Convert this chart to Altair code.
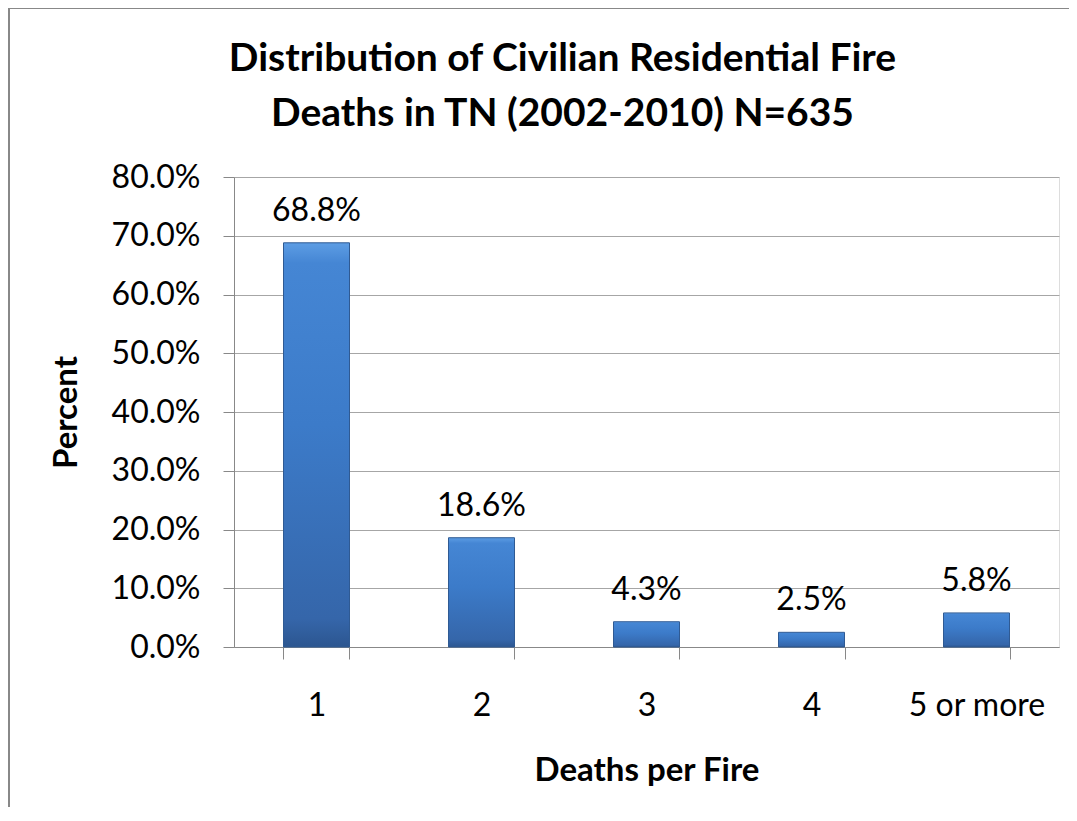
import altair as alt
import pandas as pd

categories = ["1", "2", "3", "4", "5 or more"]
percents = [0.688, 0.186, 0.043, 0.025, 0.058]
labels = ["68.8%", "18.6%", "4.3%", "2.5%", "5.8%"]
y_ticks = [0.0, 0.1, 0.2, 0.3, 0.4, 0.5, 0.6, 0.7, 0.8]

df = pd.DataFrame({"cat": categories, "pct": percents, "label": labels})

FONT = "Lato"
W, H = 825, 470
PAD = {"left": 226, "top": 169, "right": 10, "bottom": 160}

xenc = alt.X(
    "cat:N",
    sort=categories,
    scale=alt.Scale(paddingInner=0.6, paddingOuter=0.3),
    axis=alt.Axis(
        title="Deaths per Fire",
        labelAngle=0,
        tickBand="extent",
        tickSize=12,
        tickColor="#888888",
        domainColor="#888888",
        labelFont=FONT,
        labelFontSize=32,
        labelColor="#000000",
        labelPadding=31,
        titleFont=FONT,
        titleFontSize=33,
        titleFontWeight="bold",
        titleColor="#000000",
        titlePadding=33,
        grid=False,
    ),
)
yenc = alt.Y(
    "pct:Q",
    scale=alt.Scale(domain=[0, 0.8], nice=False),
    axis=alt.Axis(
        title="Percent",
        values=y_ticks,
        format=".1%",
        tickSize=11,
        tickColor="#888888",
        domainColor="#888888",
        gridColor="#a6a6a6",
        labelFont=FONT,
        labelFontSize=32,
        labelColor="#000000",
        labelPadding=23,
        titleFont=FONT,
        titleFontSize=33,
        titleFontWeight="bold",
        titleColor="#000000",
        titlePadding=28,
    ),
)

grad = alt.LinearGradient(
    gradient="linear",
    stops=[
        alt.GradientStop(color="#5d9de4", offset=0),
        alt.GradientStop(color="#4586d4", offset=0.05),
        alt.GradientStop(color="#3c7bc9", offset=0.45),
        alt.GradientStop(color="#3566aa", offset=0.93),
        alt.GradientStop(color="#2c5690", offset=1),
    ],
    x1=0, x2=0, y1=0, y2=1,
)

bars = alt.Chart(df).mark_bar(color=grad, stroke="#2f5a93", strokeWidth=1).encode(
    x=xenc, y=yenc
)

text = alt.Chart(df).mark_text(
    baseline="alphabetic", dy=-22, font=FONT, fontSize=32, color="#000000"
).encode(x=alt.X("cat:N", sort=categories), y="pct:Q", text="label:N")

frame_left = alt.Chart(df).mark_rule(color="#888888", strokeWidth=2).encode(
    x=alt.value(-225), y=alt.value(-169), y2=alt.value(H + PAD["bottom"])
)
frame_top = alt.Chart(df).mark_rule(color="#888888", strokeWidth=2).encode(
    x=alt.value(-226), x2=alt.value(W + PAD["right"]), y=alt.value(-169)
)

chart = (
    alt.layer(bars, text, frame_left, frame_top)
    .properties(
        width=W,
        height=H,
        padding=PAD,
        autosize=alt.AutoSizeParams(type="none"),
        title=alt.TitleParams(
            text=["Distribution of Civilian Residential Fire", "Deaths in TN (2002-2010) N=635"],
            font=FONT,
            fontSize=39,
            fontWeight="bold",
            color="#000000",
            anchor="middle",
            baseline="alphabetic",
            dx=-84,
            dy=188,
            lineHeight=55,
            offset=30,
        ),
    )
    .configure_view(stroke=None)
    .configure(background="#ffffff")
)

chart.save("out.html", embed_options={"renderer": "svg", "actions": False})
